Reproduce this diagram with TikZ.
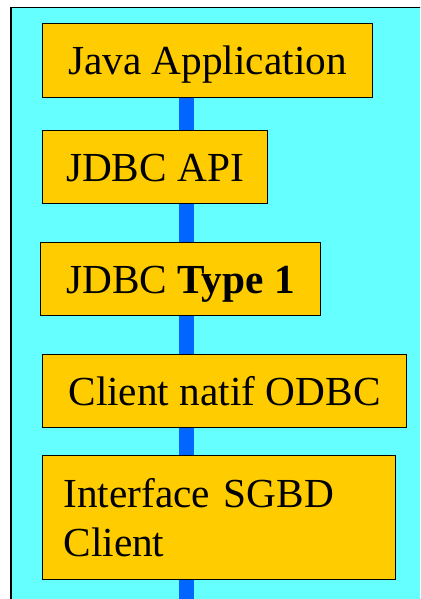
\documentclass[tikz,border=0pt]{standalone}
\usepackage{fontspec}
\setmainfont{Liberation Serif}
\definecolor{panelcyan}{HTML}{66FFFF}
\definecolor{layergold}{HTML}{FFCC00}
\definecolor{busblue}{HTML}{0066FF}
\tikzset{
  layer/.style={draw=black, line width=1pt, fill=layergold, anchor=north west,
    inner sep=0pt, minimum height=73pt, font=\fontsize{41.3}{51}\selectfont},
  onerow/.style={layer, text height=28.5pt, text depth=0pt},
  bus/.style={busblue, line width=15pt}
}
\begin{document}
\begin{tikzpicture}[x=1pt,y=-1pt]
\useasboundingbox (0,0) rectangle (420,599);
\clip (0,0) rectangle (420,599);
\fill [white] (0,0) rectangle (420,599);
\draw [black, line width=1.5pt, fill=panelcyan] (11,7.5) rectangle (430,610);
\coordinate (bustop) at (186.5,97);
\coordinate (busend) at (186.5,605);
\draw [bus] (bustop) -- (busend);
\node [onerow, minimum width=330pt, minimum height=74pt] (javaapp) at (42,23) {Java Application};
\node [onerow, minimum width=225pt] (jdbcapi) at (42,130) {JDBC API};
\node [onerow, minimum width=280pt] (jdbctype) at (40,242) {JDBC \textbf{Type 1}};
\node [onerow, minimum width=364pt] (odbc) at (42,354) {Client natif ODBC};
\node [layer, minimum width=353pt, minimum height=124pt, text width=311pt,
  inner xsep=21pt, align=left] (sgbd) at (42,455) {Interface SGBD\\[-2.5pt]Client};
\end{tikzpicture}
\end{document}
